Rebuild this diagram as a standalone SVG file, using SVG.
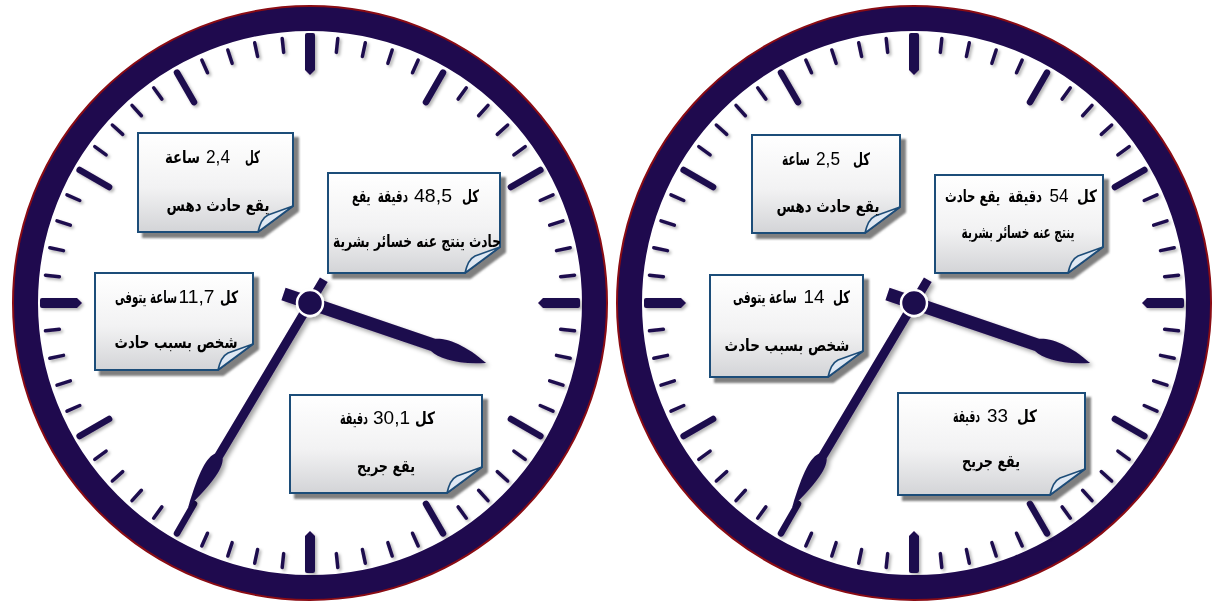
<svg xmlns="http://www.w3.org/2000/svg" xmlns:xlink="http://www.w3.org/1999/xlink" width="1215" height="603" viewBox="0 0 1215 603">
<style>
.ring{fill:#fff;stroke:#1f0a4e;stroke-width:24}
.rim{fill:none;stroke:#8a0c14;stroke-width:3}
.mt{fill:#1f0a4e}
.ht{stroke:#1f0a4e;stroke-width:6.5;stroke-linecap:round}
.nt{stroke:#1f0a4e;stroke-width:3.5;stroke-linecap:round}
.hand{fill:#1f0a4e}
.hub{fill:#1f0a4e;stroke:#fff;stroke-width:2.5}
.box{fill:url(#bg);stroke:#1f4e79;stroke-width:2}
.fold{fill:#dfe8f3;stroke:#1f4e79;stroke-width:1.6;stroke-linejoin:round}
.ar{font-family:"DejaVu Sans",sans-serif;font-weight:bold;font-size:17px;fill:#000;text-anchor:middle}
.num{font-family:"Liberation Sans",Arial,sans-serif;font-weight:normal;font-size:19px;fill:#000;text-anchor:middle}
</style>
<defs>
<linearGradient id="bg" x1="0" y1="0" x2="0" y2="1">
<stop offset="0" stop-color="#ffffff"/>
<stop offset="0.55" stop-color="#f2f2f3"/>
<stop offset="1" stop-color="#d3d4d7"/>
</linearGradient>
<filter id="bsh" x="-10%" y="-10%" width="130%" height="130%">
<feDropShadow dx="5" dy="5" stdDeviation="1" flood-color="#555" flood-opacity="0.75"/>
</filter>
<filter id="tsh" x="-10%" y="-10%" width="120%" height="120%">
<feDropShadow dx="2" dy="2" stdDeviation="1.5" flood-color="#000" flood-opacity="0.3"/>
</filter>
<filter id="hsh" x="-20%" y="-20%" width="140%" height="140%">
<feDropShadow dx="3" dy="3" stdDeviation="2" flood-color="#000" flood-opacity="0.35"/>
</filter>
<path id="mtk" class="mt" d="M-5,-268 Q-5,-270 -3,-270 L3,-270 Q5,-270 5,-268 L5,-233 L0,-228 L-5,-233 Z"/>
<line id="htk" class="ht" x1="0" y1="-266" x2="0" y2="-232"/>
<line id="ntk" class="nt" x1="0" y1="-266" x2="0" y2="-252"/>
<g id="face">
<circle class="rim" r="296.5"/>
<circle class="ring" r="284"/>
<g filter="url(#tsh)">
<use href="#mtk"/><use href="#mtk" transform="rotate(90)"/><use href="#mtk" transform="rotate(180)"/><use href="#mtk" transform="rotate(270)"/>
<use href="#htk" transform="rotate(30)"/><use href="#htk" transform="rotate(60)"/><use href="#htk" transform="rotate(120)"/><use href="#htk" transform="rotate(150)"/>
<use href="#htk" transform="rotate(210)"/><use href="#htk" transform="rotate(240)"/><use href="#htk" transform="rotate(300)"/><use href="#htk" transform="rotate(330)"/>
<use href="#ntk" transform="rotate(6)"/><use href="#ntk" transform="rotate(12)"/><use href="#ntk" transform="rotate(18)"/><use href="#ntk" transform="rotate(24)"/>
<use href="#ntk" transform="rotate(36)"/><use href="#ntk" transform="rotate(42)"/><use href="#ntk" transform="rotate(48)"/><use href="#ntk" transform="rotate(54)"/>
<use href="#ntk" transform="rotate(66)"/><use href="#ntk" transform="rotate(72)"/><use href="#ntk" transform="rotate(78)"/><use href="#ntk" transform="rotate(84)"/>
<use href="#ntk" transform="rotate(96)"/><use href="#ntk" transform="rotate(102)"/><use href="#ntk" transform="rotate(108)"/><use href="#ntk" transform="rotate(114)"/>
<use href="#ntk" transform="rotate(126)"/><use href="#ntk" transform="rotate(132)"/><use href="#ntk" transform="rotate(138)"/><use href="#ntk" transform="rotate(144)"/>
<use href="#ntk" transform="rotate(156)"/><use href="#ntk" transform="rotate(162)"/><use href="#ntk" transform="rotate(168)"/><use href="#ntk" transform="rotate(174)"/>
<use href="#ntk" transform="rotate(186)"/><use href="#ntk" transform="rotate(192)"/><use href="#ntk" transform="rotate(198)"/><use href="#ntk" transform="rotate(204)"/>
<use href="#ntk" transform="rotate(216)"/><use href="#ntk" transform="rotate(222)"/><use href="#ntk" transform="rotate(228)"/><use href="#ntk" transform="rotate(234)"/>
<use href="#ntk" transform="rotate(246)"/><use href="#ntk" transform="rotate(252)"/><use href="#ntk" transform="rotate(258)"/><use href="#ntk" transform="rotate(264)"/>
<use href="#ntk" transform="rotate(276)"/><use href="#ntk" transform="rotate(282)"/><use href="#ntk" transform="rotate(288)"/><use href="#ntk" transform="rotate(294)"/>
<use href="#ntk" transform="rotate(306)"/><use href="#ntk" transform="rotate(312)"/><use href="#ntk" transform="rotate(318)"/><use href="#ntk" transform="rotate(324)"/>
<use href="#ntk" transform="rotate(336)"/><use href="#ntk" transform="rotate(342)"/><use href="#ntk" transform="rotate(348)"/><use href="#ntk" transform="rotate(354)"/>
</g>
</g>
<g id="hands">
<g filter="url(#hsh)">
<path class="hand" transform="rotate(18.8)" d="M-28,-6.5 L130,-6.5 C140,-11 160,-11 186,0 C160,11 140,11 130,6.5 L-28,6.5 Z"/>
<path class="hand" transform="rotate(120.8)" d="M-27,-4.5 L178,-4.5 C186,-9.5 200,-9.5 238,0 C200,9.5 186,9.5 178,4.5 L-27,4.5 Z"/>
<circle class="hub" r="13"/>
</g>
</g>
</defs>
<rect width="1215" height="603" fill="#fff"/>

<g id="clock-left">
<use href="#face" transform="translate(310,303)"/>
</g>
<g id="clock-right">
<use href="#face" transform="translate(914,303)"/>
</g>

<g id="left-note-1">
<g filter="url(#bsh)"><path class="box" d="M138,133 H293 V206 L258,232 H138 Z"/><path class="fold" d="M258,232 C260,224 262,218 268,215 L293,206 Z"/></g>
<text class="ar" transform="translate(252.5,163) scale(0.85,1)" textLength="17.6" lengthAdjust="spacingAndGlyphs">كل</text>
<text class="num" x="218" y="163" textLength="24" lengthAdjust="spacingAndGlyphs">2,4</text>
<text class="ar" transform="translate(182.5,163) scale(0.8,1)" textLength="43.7" lengthAdjust="spacingAndGlyphs">ساعة</text>
<text class="ar" transform="translate(218,211) scale(0.8,1)" textLength="128.7" lengthAdjust="spacingAndGlyphs">يقع حادث دهس</text>
</g>
<g id="left-note-2">
<g filter="url(#bsh)"><path class="box" d="M328,173 H500 V247 L465,273 H328 Z"/><path class="fold" d="M465,273 C467,265 469,259 475,256 L500,247 Z"/></g>
<text class="ar" transform="translate(470.5,202) scale(0.85,1)" textLength="20" lengthAdjust="spacingAndGlyphs">كل</text>
<text class="num" x="433" y="202" textLength="38" lengthAdjust="spacingAndGlyphs">48,5</text>
<text class="ar" transform="translate(380,202) scale(0.62,1)" textLength="90.3" lengthAdjust="spacingAndGlyphs" xml:space="preserve">دقيقة  يقع</text>
<text class="ar" transform="translate(417,247) scale(0.72,1)" textLength="233.3" lengthAdjust="spacingAndGlyphs">حادث ينتج عنه خسائر بشرية</text>
</g>
<g id="left-note-3">
<g filter="url(#bsh)"><path class="box" d="M95,273 H253 V344 L218,370 H95 Z"/><path class="fold" d="M218,370 C220,362 222,356 228,353 L253,344 Z"/></g>
<text class="ar" transform="translate(229,303) scale(0.9,1)" textLength="20" lengthAdjust="spacingAndGlyphs">كل</text>
<text class="num" x="196.5" y="303" textLength="36" lengthAdjust="spacingAndGlyphs">11,7</text>
<text class="ar" transform="translate(146,303) scale(0.62,1)" textLength="100" lengthAdjust="spacingAndGlyphs">ساعة يتوفى</text>
<text class="ar" transform="translate(176,348) scale(0.79,1)" textLength="155.7" lengthAdjust="spacingAndGlyphs">شخص بسبب حادث</text>
</g>
<g id="left-note-4">
<g filter="url(#bsh)"><path class="box" d="M290,395 H482 V467 L447,493 H290 Z"/><path class="fold" d="M447,493 C449,485 451,479 457,476 L482,467 Z"/></g>
<text class="ar" transform="translate(425,424)" textLength="20" lengthAdjust="spacingAndGlyphs">كل</text>
<text class="num" x="391.5" y="424" textLength="37" lengthAdjust="spacingAndGlyphs">30,1</text>
<text class="ar" transform="translate(354,424) scale(0.58,1)" textLength="48.3" lengthAdjust="spacingAndGlyphs">دقيقة</text>
<text class="ar" transform="translate(386,472) scale(0.75,1)" textLength="77.3" lengthAdjust="spacingAndGlyphs">يقع جريح</text>
</g>

<g id="right-note-1">
<g filter="url(#bsh)"><path class="box" d="M752,135 H900 V207 L865,233 H752 Z"/><path class="fold" d="M865,233 C867,225 869,219 875,216 L900,207 Z"/></g>
<text class="ar" transform="translate(861.5,165) scale(0.85,1)" textLength="20" lengthAdjust="spacingAndGlyphs">كل</text>
<text class="num" x="828" y="165" textLength="24" lengthAdjust="spacingAndGlyphs">2,5</text>
<text class="ar" transform="translate(796,165) scale(0.65,1)" textLength="43" lengthAdjust="spacingAndGlyphs">ساعة</text>
<text class="ar" transform="translate(828,212) scale(0.8,1)" textLength="128.7" lengthAdjust="spacingAndGlyphs">يقع حادث دهس</text>
</g>
<g id="right-note-2">
<g filter="url(#bsh)"><path class="box" d="M935,175 H1103 V247 L1068,273 H935 Z"/><path class="fold" d="M1068,273 C1070,265 1072,259 1078,256 L1103,247 Z"/></g>
<text class="ar" transform="translate(1087,202)" textLength="20" lengthAdjust="spacingAndGlyphs">كل</text>
<text class="num" x="1059" y="202" textLength="19" lengthAdjust="spacingAndGlyphs">54</text>
<text class="ar" transform="translate(993.5,202) scale(0.7,1)" textLength="138.6" lengthAdjust="spacingAndGlyphs" xml:space="preserve">دقيقة  يقع حادث</text>
<text class="ar" transform="translate(1018,238) scale(0.61,1)" textLength="185" lengthAdjust="spacingAndGlyphs">ينتج عنه خسائر بشرية</text>
</g>
<g id="right-note-3">
<g filter="url(#bsh)"><path class="box" d="M710,275 H863 V351 L828,377 H710 Z"/><path class="fold" d="M828,377 C830,369 832,363 838,360 L863,351 Z"/></g>
<text class="ar" transform="translate(841.5,303) scale(0.85,1)" textLength="20" lengthAdjust="spacingAndGlyphs">كل</text>
<text class="num" x="814" y="303" textLength="21" lengthAdjust="spacingAndGlyphs" font-weight="bold">14</text>
<text class="ar" transform="translate(765,303) scale(0.62,1)" textLength="103" lengthAdjust="spacingAndGlyphs">ساعة يتوفى</text>
<text class="ar" transform="translate(787,351) scale(0.8,1)" textLength="156" lengthAdjust="spacingAndGlyphs">شخص بسبب حادث</text>
</g>
<g id="right-note-4">
<g filter="url(#bsh)"><path class="box" d="M898,393 H1085 V469 L1050,495 H898 Z"/><path class="fold" d="M1050,495 C1052,487 1054,481 1060,478 L1085,469 Z"/></g>
<text class="ar" transform="translate(1027,422)" textLength="20" lengthAdjust="spacingAndGlyphs">كل</text>
<text class="num" x="997.5" y="422" textLength="21" lengthAdjust="spacingAndGlyphs">33</text>
<text class="ar" transform="translate(966.5,422) scale(0.58,1)" textLength="46.5" lengthAdjust="spacingAndGlyphs">دقيقة</text>
<text class="ar" transform="translate(991,467) scale(0.75,1)" textLength="77.3" lengthAdjust="spacingAndGlyphs">يقع جريح</text>
</g>

<g id="hands-left"><use href="#hands" transform="translate(310,303)"/></g>
<g id="hands-right"><use href="#hands" transform="translate(914,303)"/></g>
<g id="connectors"></g>
</svg>
